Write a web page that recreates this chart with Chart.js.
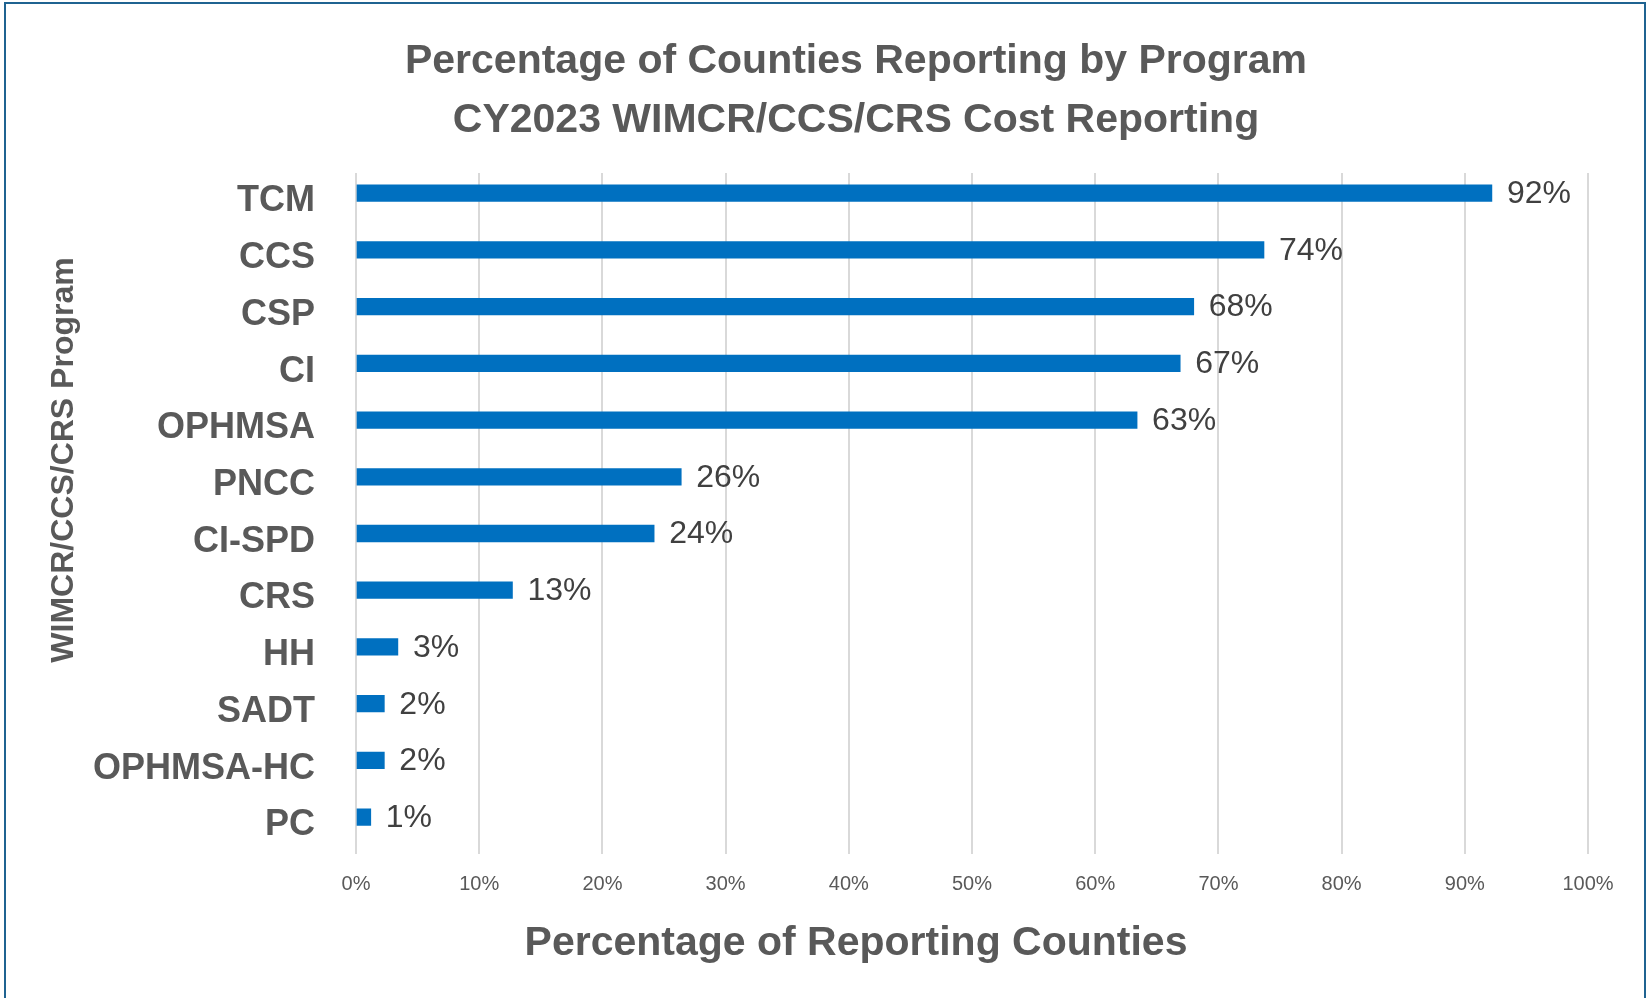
<!DOCTYPE html>
<html>
<head>
<meta charset="utf-8">
<script src="https://cdn.jsdelivr.net/npm/chart.js@4/dist/chart.umd.min.js"></script>
<style>
  html, body { margin: 0; padding: 0; background: #fff; overflow: hidden; }
  #wrap { position: relative; width: 1647px; height: 998px; }
  #frame { position: absolute; left: 4px; top: 2px; width: 1638px; height: 1000px; border: 2px solid #1F6391; pointer-events: none; }
</style>
</head>
<body>
<div id="wrap">
  <canvas id="chart_canvas" width="1647" height="998"></canvas>
  <div id="frame"></div>
</div>
<script>
var programs = ['TCM', 'CCS', 'CSP', 'CI', 'OPHMSA', 'PNCC', 'CI-SPD', 'CRS', 'HH', 'SADT', 'OPHMSA-HC', 'PC'];
var pctReporting = [92.2, 73.7, 68.0, 66.9, 63.4, 26.4, 24.2, 12.7, 3.4, 2.3, 2.3, 1.2];
var titleLines = ['Percentage of Counties Reporting by Program', 'CY2023 WIMCR/CCS/CRS Cost Reporting'];
var xTitle = 'Percentage of Reporting Counties';
var yTitle = 'WIMCR/CCS/CRS Program';

var FONT = "'Liberation Sans', Arial, sans-serif";
var GREY = '#595959';

// value labels at the end of each bar
var barLabels = {
  id: 'barLabels',
  afterDatasetsDraw: function(chart) {
    var ctx = chart.ctx;
    var meta = chart.getDatasetMeta(0);
    ctx.save();
    ctx.font = '32px ' + FONT;
    ctx.fillStyle = '#404040';
    ctx.textAlign = 'left';
    ctx.textBaseline = 'middle';
    meta.data.forEach(function(bar, i) {
      ctx.fillText(Math.round(pctReporting[i]) + '%', bar.x + 15, bar.y + 1);
    });
    ctx.restore();
  }
};

// the y axis title sits higher than the middle of the axis in the original
var yAxisTitle = {
  id: 'yAxisTitle',
  afterDraw: function(chart) {
    var ctx = chart.ctx;
    ctx.save();
    ctx.translate(64, 460);
    ctx.rotate(-Math.PI / 2);
    ctx.font = 'bold 32px ' + FONT;
    ctx.fillStyle = GREY;
    ctx.textAlign = 'center';
    ctx.textBaseline = 'middle';
    ctx.fillText(yTitle, 0, 0);
    ctx.restore();
  }
};

var ctx = document.getElementById('chart_canvas').getContext('2d');
window.program_chart = new Chart(ctx, {
  type: 'bar',
  data: {
    labels: programs,
    datasets: [{
      label: 'Percentage of Reporting Counties',
      data: pctReporting,
      backgroundColor: '#0070C0',
      borderWidth: 0,
      barThickness: 16.6
    }, {
      label: '', // empty second series, keeps the bars above the category centre like the original
      data: [],
      backgroundColor: 'rgba(0,0,0,0)',
      barThickness: 16.6
    }]
  },
  options: {
    indexAxis: 'y',
    responsive: false,
    animation: false,
    layout: { padding: { top: 10, left: 80, right: 15, bottom: 10 } },
    plugins: {
      legend: { display: false },
      tooltip: { enabled: false },
      title: {
        display: true,
        text: titleLines,
        color: GREY,
        font: { family: FONT, size: 41, weight: 'bold', lineHeight: 1.44 },
        padding: { top: 22, bottom: 23 }
      },
      subtitle: {
        display: true,
        position: 'bottom',
        text: xTitle,
        color: GREY,
        font: { family: FONT, size: 41, weight: 'bold', lineHeight: 1.2 },
        padding: { top: 0, bottom: 20 }
      }
    },
    scales: {
      x: {
        min: 0,
        max: 100,
        ticks: {
          stepSize: 10,
          padding: 19,
          color: GREY,
          font: { family: FONT, size: 20 },
          callback: function(v) { return v + '%'; }
        },
        grid: { color: '#D9D9D9', lineWidth: 2, drawTicks: false },
        border: { display: false },
        afterFit: function(scale) { scale.height = 65; }
      },
      y: {
        ticks: {
          padding: 41,
          color: GREY,
          font: { family: FONT, size: 36, weight: 'bold' }
        },
        grid: { display: false, drawTicks: false },
        border: { display: false },
        afterFit: function(scale) { scale.width = 276; }
      },
      // blank strip on the right so the titles are centred like the original
      yRight: {
        position: 'right',
        ticks: { display: false },
        grid: { display: false, drawTicks: false },
        border: { display: false },
        afterFit: function(scale) { scale.width = 44; }
      }
    }
  },
  plugins: [barLabels, yAxisTitle]
});
</script>
</body>
</html>
